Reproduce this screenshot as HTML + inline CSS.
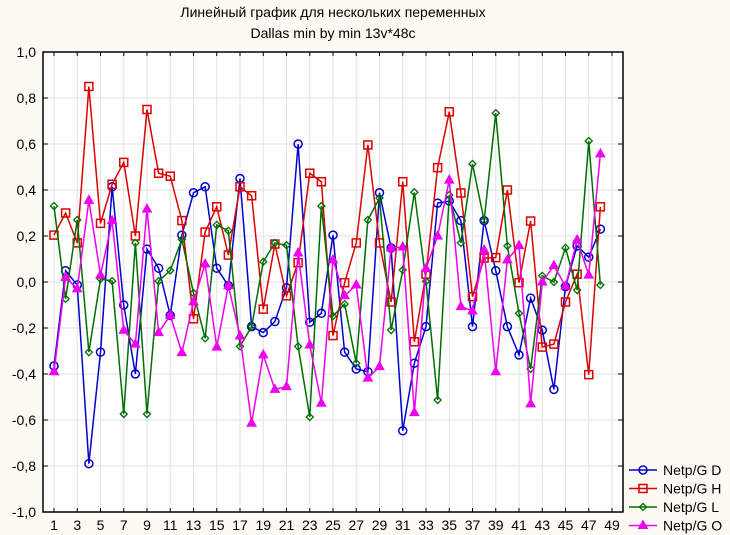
<!DOCTYPE html>
<html><head><meta charset="utf-8"><style>
html,body{margin:0;padding:0;background:#fcfaf2;}
svg{display:block;font-family:"Liberation Sans",sans-serif;}
</style></head><body>
<svg id="chart" width="730" height="535" viewBox="0 0 730 535">
<rect x="0" y="0" width="730" height="535" fill="#fcfaf2"/>
<text x="333" y="17" font-size="14" text-anchor="middle" fill="#000">Линейный график для нескольких переменных</text>
<text x="333" y="38" font-size="14" text-anchor="middle" fill="#000">Dallas min by min 13v*48c</text>
<rect x="43" y="52" width="580" height="460" fill="#fff"/>
<g id="grid"></g><g id="series"></g><g id="axes"></g><g id="legend"></g>
</svg>
<script>
const categories = Array.from({length:48},(_, i)=>i+1);
const seriesNames = ["Netp/G D","Netp/G H","Netp/G L","Netp/G O"];
const valuesD = [-0.365,0.049,-0.013,-0.79,-0.305,0.414,-0.1,-0.40,0.143,0.06,-0.145,0.204,0.388,0.414,0.06,-0.016,0.45,-0.194,-0.22,-0.172,-0.025,0.60,-0.175,-0.136,0.204,-0.305,-0.378,-0.39,0.388,0.148,-0.647,-0.353,-0.194,0.343,0.352,0.267,-0.194,0.267,0.049,-0.194,-0.317,-0.07,-0.209,-0.467,-0.02,0.157,0.108,0.23];
const valuesH = [0.204,0.30,0.17,0.85,0.255,0.425,0.52,0.20,0.75,0.473,0.46,0.267,-0.16,0.217,0.327,0.117,0.414,0.375,-0.118,0.165,-0.06,0.084,0.473,0.436,-0.233,-0.003,0.17,0.596,0.17,-0.087,0.436,-0.26,0.034,0.497,0.74,0.387,-0.064,0.104,0.106,0.4,-0.003,0.265,-0.283,-0.27,-0.087,0.034,-0.403,0.327];
const valuesL = [0.33,-0.073,0.27,-0.305,0.014,0.004,-0.574,0.17,-0.574,0.004,0.05,0.185,-0.048,-0.245,0.248,0.223,-0.28,-0.194,0.088,0.17,0.16,-0.28,-0.587,0.33,-0.148,-0.096,-0.353,0.27,0.365,-0.209,0.052,0.39,0.003,-0.513,0.378,0.17,0.513,0.267,0.734,0.157,-0.136,-0.378,0.027,0.0,0.148,-0.035,0.613,-0.013];
const valuesO = [-0.39,0.02,-0.03,0.355,0.03,0.267,-0.21,-0.27,0.317,-0.22,-0.145,-0.307,-0.086,0.078,-0.283,-0.016,-0.235,-0.614,-0.317,-0.467,-0.455,0.126,-0.274,-0.527,0.096,-0.06,-0.013,-0.418,-0.368,0.148,0.152,-0.568,0.058,0.2,0.443,-0.107,-0.126,0.139,-0.39,0.096,0.158,-0.53,0.0,0.071,-0.018,0.183,0.03,0.557];
const yTicks = [1.0,0.8,0.6,0.4,0.2,0.0,-0.2,-0.4,-0.6,-0.8,-1.0];
const xTicks = [1,3,5,7,9,11,13,15,17,19,21,23,25,27,29,31,33,35,37,39,41,43,45,47,49];

const NS="http://www.w3.org/2000/svg";
const X0=43,X1=623,Y0=52,Y1=512;
const xs = i => 54 + (i-1)*11.625;
const ys = v => 282 - v*230;
function mk(tag, attrs, parent){const e=document.createElementNS(NS,tag);for(const k in attrs)e.setAttribute(k,attrs[k]);parent.appendChild(e);return e;}
const grid=document.getElementById('grid'), axes=document.getElementById('axes'), ser=document.getElementById('series'), leg=document.getElementById('legend');

yTicks.forEach(v=>{
  const y=ys(v);
  const g=mk('line',{x1:X0,x2:X1,y1:y,y2:y,stroke:'#e2e2e2','stroke-width':1},grid);
  
  
  mk('line',{x1:X0,x2:X0+5,y1:y,y2:y,stroke:'#000'},axes);
  mk('line',{x1:X1-5,x2:X1,y1:y,y2:y,stroke:'#000'},axes);
  const t=mk('text',{x:36,y:y+5,'font-size':14,'text-anchor':'end',fill:'#000'},axes);
  t.textContent=v.toFixed(1).replace('.',',');
  
  
});
xTicks.forEach(i=>{
  const x=xs(i);
  const g=mk('line',{x1:x,x2:x,y1:Y0,y2:Y1,stroke:'#e2e2e2','stroke-width':1},grid);
  
  
  mk('line',{x1:x,x2:x,y1:Y0,y2:Y0+4,stroke:'#000'},axes);
  mk('line',{x1:x,x2:x,y1:Y1-4,y2:Y1,stroke:'#000'},axes);
  const t=mk('text',{x:x,y:530,'font-size':14,'text-anchor':'middle',fill:'#000'},axes);
  t.textContent=i;
  
  
});
const fr=mk('rect',{x:X0,y:Y0,width:X1-X0,height:Y1-Y0,fill:'none',stroke:'#000','stroke-width':1.5},axes);



function marker(type,x,y,color,parent){
  let e;
  if(type==='circle') e=mk('circle',{cx:x,cy:y,r:4,fill:'none',stroke:color,'stroke-width':1.5},parent);
  else if(type==='square') e=mk('rect',{x:x-4,y:y-4,width:8,height:8,fill:'none',stroke:color,'stroke-width':1.5},parent);
  else if(type==='diamond') e=mk('polygon',{points:`${x},${y-3.5} ${x+3.5},${y} ${x},${y+3.5} ${x-3.5},${y}`,fill:'none',stroke:color,'stroke-width':1.3},parent);
  else e=mk('polygon',{points:`${x},${y-5} ${x+4.5},${y+3} ${x-4.5},${y+3}`,fill:color,stroke:color,'stroke-width':1},parent);
  return e;
}
const allSeries=[
  {vals:valuesD,color:'#0000cc',m:'circle',slug:'d'},
  {vals:valuesH,color:'#dd0000',m:'square',slug:'h'},
  {vals:valuesL,color:'#006e00',m:'diamond',slug:'l'},
  {vals:valuesO,color:'#ee00ee',m:'triangle',slug:'o'}];
allSeries.forEach((s,si)=>{
  const g=mk('g',{},ser);
  
  
  const pts=s.vals.map((v,k)=>xs(categories[k])+','+ys(v)).join(' ');
  const pl=mk('polyline',{points:pts,fill:'none',stroke:s.color,'stroke-width':1.5},g);
  
  
  s.vals.forEach((v,k)=>{
    const m=marker(s.m,xs(categories[k]),ys(v),s.color,g);
    
    
  });
  const ly=470+si*18.5;
  const lg=mk('g',{},leg);
  
  
  mk('line',{x1:629,x2:657,y1:ly,y2:ly,stroke:s.color,'stroke-width':1.5},lg);
  marker(s.m,643,ly,s.color,lg);
  const t=mk('text',{x:663,y:ly+5,'font-size':14,fill:'#000'},lg);
  t.textContent=seriesNames[si];
});
</script>
</body></html>
